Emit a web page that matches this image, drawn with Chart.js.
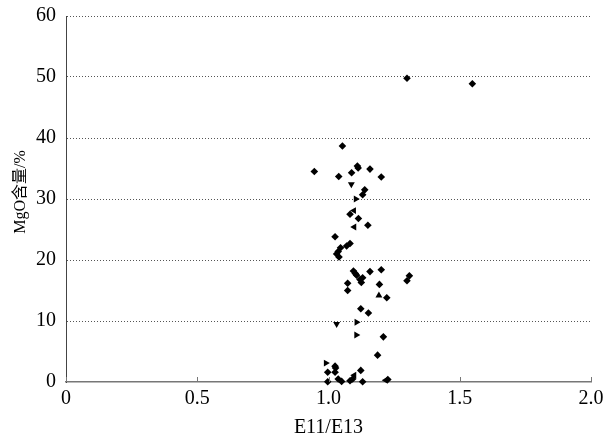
<!DOCTYPE html>
<html>
<head>
<meta charset="utf-8">
<script src="https://cdn.jsdelivr.net/npm/chart.js@4/dist/chart.umd.min.js"></script>
<style>
  html, body { margin: 0; padding: 0; background: #fff; }
  #wrap { width: 606px; height: 440px; }
</style>
</head>
<body>
<div id="wrap"><canvas id="chart" width="606" height="440"></canvas></div>
<script>
// axis setup
const xTicks = [0, 0.5, 1.0, 1.5, 2.0];
const yTicks = [0, 10, 20, 30, 40, 50, 60];
const yTitle = 'MgO含量/%';

// samples drawn as diamonds
const diamondE11E13 = [1.299, 1.548, 1.053, 0.946, 1.039, 1.088, 1.110, 1.113, 1.158, 1.201,
  1.138, 1.130, 1.082, 1.114, 1.150, 1.025, 1.082, 1.069, 1.046, 1.037, 1.031, 1.040,
  1.095, 1.102, 1.107, 1.130, 1.125, 1.120, 1.158, 1.201, 1.073, 1.194, 1.073, 1.222,
  1.123, 1.152, 1.209, 1.187, 1.308, 1.299,
  1.025, 1.027, 0.997, 1.025, 1.123, 0.997, 1.037, 1.050, 1.082, 1.092, 1.130, 1.226];
const diamondMgO = [49.8, 48.9, 38.7, 34.5, 33.7, 34.3, 35.4, 35.1, 34.9, 33.6,
  31.5, 30.7, 27.5, 26.8, 25.7, 23.8, 22.7, 22.3, 22.0, 21.4, 21.0, 20.5,
  18.2, 17.8, 17.5, 17.1, 16.3, 16.8, 18.1, 18.4, 16.2, 16.0, 15.0, 13.8,
  12.0, 11.3, 7.4, 4.4, 17.4, 16.6,
  2.6, 2.3, 1.6, 1.6, 1.9, 0.05, 0.5, 0.1, 0.2, 0.5, 0.05, 0.4];

// samples drawn as triangles (one array pair per orientation)
const triDownE11E13 = [1.087, 1.031];
const triDownMgO = [32.4, 9.5];
const triRightE11E13 = [1.104, 1.107, 1.106, 0.990];
const triRightMgO = [30.0, 9.8, 7.7, 3.1];
const triLeftE11E13 = [1.097, 1.098, 1.098, 1.218];
const triLeftMgO = [28.1, 25.4, 1.1, 0.3];
const triUpE11E13 = [1.192];
const triUpMgO = [14.2];

const serif = '"Liberation Serif", "Times New Roman", "Noto Sans CJK SC", serif';

function pairs(xs, ys) {
  return xs.map((x, i) => ({ x: x, y: ys[i] }));
}

function markerSet(xs, ys, style, rot, r) {
  return {
    data: pairs(xs, ys),
    pointStyle: style,
    rotation: rot,
    pointRadius: r,
    pointHoverRadius: r,
    backgroundColor: '#000',
    borderColor: '#000',
    borderWidth: 0,
    showLine: false,
    clip: false
  };
}

// inward tick marks on the bottom axis + rotated y title
const axisExtras = {
  id: 'axisExtras',
  afterDatasetsDraw(chart) {
    const ctx = chart.ctx;
    const xs = chart.scales.x;
    const base = chart.chartArea.bottom;
    ctx.save();
    ctx.strokeStyle = '#777';
    ctx.lineWidth = 1;
    xTicks.forEach(v => {
      const px = Math.round(xs.getPixelForValue(v)) + 0.5;
      ctx.beginPath();
      ctx.moveTo(px, base);
      ctx.lineTo(px, base - 5);
      ctx.stroke();
    });
    ctx.restore();

    ctx.save();
    ctx.translate(21, 192);
    ctx.rotate(-Math.PI / 2);
    ctx.fillStyle = '#000';
    ctx.font = '16px ' + serif;
    ctx.textAlign = 'center';
    ctx.textBaseline = 'middle';
    ctx.fillText(yTitle, 0, 0);
    ctx.restore();
  }
};

// let the layout padding alone decide the plot edges
function noLabelPadding(s) {
  s.paddingTop = 0;
  s.paddingBottom = 0;
  s.paddingLeft = 0;
  s.paddingRight = 0;
}

new Chart(document.getElementById('chart').getContext('2d'), {
  type: 'scatter',
  data: {
    datasets: [
      markerSet(diamondE11E13, diamondMgO, 'rectRot', 0, 3.8),
      markerSet(triDownE11E13, triDownMgO, 'triangle', 180, 4),
      markerSet(triRightE11E13, triRightMgO, 'triangle', 90, 4),
      markerSet(triLeftE11E13, triLeftMgO, 'triangle', 270, 4),
      markerSet(triUpE11E13, triUpMgO, 'triangle', 0, 4)
    ]
  },
  plugins: [axisExtras],
  options: {
    responsive: false,
    animation: false,
    layout: { padding: { top: 16, right: 15, left: 0, bottom: 0 } },
    plugins: {
      legend: { display: false },
      tooltip: { enabled: false }
    },
    scales: {
      x: {
        type: 'linear',
        min: 0,
        max: 2,
        afterBuildTicks: s => { s.ticks = xTicks.map(v => ({ value: v })); },
        afterFit: s => { s.height = 58; noLabelPadding(s); },
        grid: { display: false, drawTicks: false },
        border: { display: true, color: '#777', width: 1.5 },
        ticks: {
          padding: 5,
          color: '#000',
          font: { family: serif, size: 20 },
          callback: v => (v === 0 ? '0' : v.toFixed(1))
        },
        title: {
          display: true,
          text: 'E11/E13',
          color: '#000',
          font: { family: serif, size: 20 },
          padding: { top: 0, bottom: 0 }
        }
      },
      y: {
        min: 0,
        max: 60,
        afterBuildTicks: s => { s.ticks = yTicks.map(v => ({ value: v })); },
        afterFit: s => { s.width = 66; noLabelPadding(s); },
        grid: {
          color: ctx => (ctx.tick && ctx.tick.value === 0 ? 'rgba(0,0,0,0)' : '#555'),
          lineWidth: 1,
          drawTicks: false
        },
        border: { display: true, color: '#444', width: 1, dash: [1, 2] },
        ticks: {
          padding: 10,
          color: '#000',
          font: { family: serif, size: 20 }
        },
        title: { display: false }
      }
    }
  }
});
</script>
</body>
</html>
